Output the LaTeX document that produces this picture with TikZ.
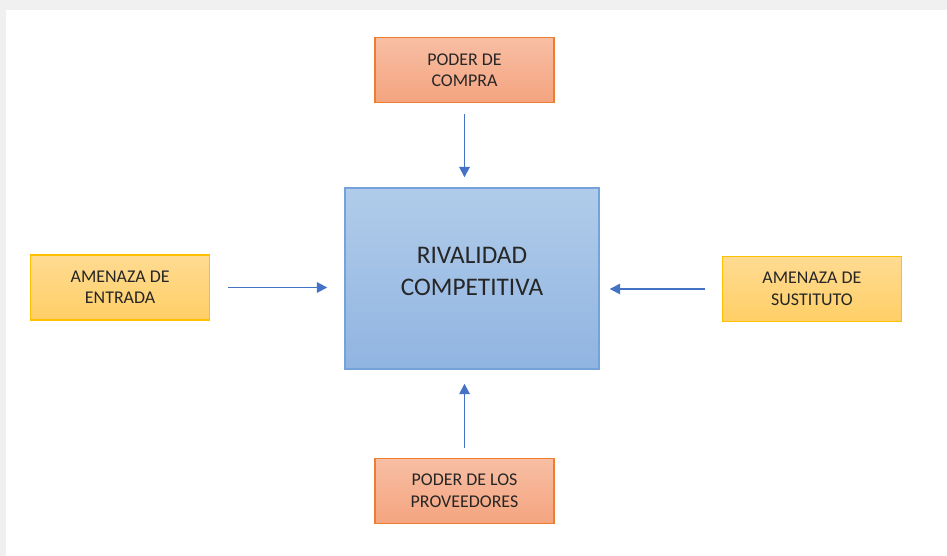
\documentclass[tikz,border=0pt]{standalone}
\usepackage{fontspec}
\setmainfont{Carlito}
\usepackage{tikz}
\usetikzlibrary{arrows.meta,positioning,calc}
\usepackage{xcolor}
\definecolor{page}{HTML}{F0F0F0}
\definecolor{ink}{HTML}{262626}
\definecolor{salmontop}{HTML}{F8BEA4}
\definecolor{salmonbot}{HTML}{F4A47F}
\definecolor{salmonline}{HTML}{ED7D31}
\definecolor{bluetop}{HTML}{B1CCEA}
\definecolor{bluebot}{HTML}{90B4E1}
\definecolor{blueline}{HTML}{74A3D9}
\definecolor{goldtop}{HTML}{FFDB92}
\definecolor{goldbot}{HTML}{FFCF66}
\definecolor{goldline}{HTML}{FFC000}
\definecolor{arrowblue}{HTML}{4472C4}
\tikzset{
  core/.style={draw=blueline,line width=0.8pt,top color=bluetop,bottom color=bluebot,
    minimum width=5.08cm,minimum height=3.62cm},
  coretext/.style={align=center,text=ink,font=\fontsize{14.4}{18.0}\selectfont},
  power/.style={draw=salmonline,line width=0.8pt,top color=salmontop,bottom color=salmonbot,
    align=center,minimum width=3.58cm,minimum height=1.3cm,text=ink,
    font=\fontsize{10.2}{12.2}\selectfont},
  threat/.style={draw=goldline,line width=0.8pt,top color=goldtop,bottom color=goldbot,
    align=center,minimum width=3.58cm,minimum height=1.3cm,text=ink,
    font=\fontsize{10.2}{12.2}\selectfont},
  force/.style={-{Triangle[length=2.1mm,width=2.1mm]},draw=arrowblue,line width=1pt}
}
\begin{document}
\begin{tikzpicture}
  % page and card
  \fill[page] (0,0) rectangle (18.94,-11.12);
  \fill[white] (0.12,-0.2) rectangle (18.94,-11.12);
  \useasboundingbox (0,0) rectangle (18.94,-11.12);
  \node[core,label={[coretext,yshift=0.14cm]center:{RIVALIDAD\\COMPETITIVA}}] (rival) at (9.44,-5.57) {};
  \node[power,above=1.68cm of rival,xshift=-0.15cm] (compra) {PODER DE\\COMPRA};
  \node[power,below=1.76cm of rival,xshift=-0.15cm] (proveedores) {PODER DE LOS\\PROVEEDORES};
  \node[threat,left=2.72cm of rival,yshift=-0.18cm,xshift=0.04cm] (entrada) {AMENAZA DE\\ENTRADA};
  \node[threat,right=2.46cm of rival,yshift=-0.21cm,xshift=-0.02cm] (sustituto) {AMENAZA DE\\SUSTITUTO};
  \draw[force,shorten <=0.22cm,shorten >=0.2cm] (compra.south) -- (compra.south |- rival.north);
  \draw[force,shorten <=0.2cm,shorten >=0.28cm] (proveedores.north) -- (proveedores.north |- rival.south);
  \draw[force,shorten <=0.36cm,shorten >=0.34cm] (entrada.east) -- (entrada.east -| rival.west);
  \draw[force,shorten <=0.34cm,shorten >=0.2cm] (sustituto.west) -- (sustituto.west -| rival.east);
\end{tikzpicture}
\end{document}
